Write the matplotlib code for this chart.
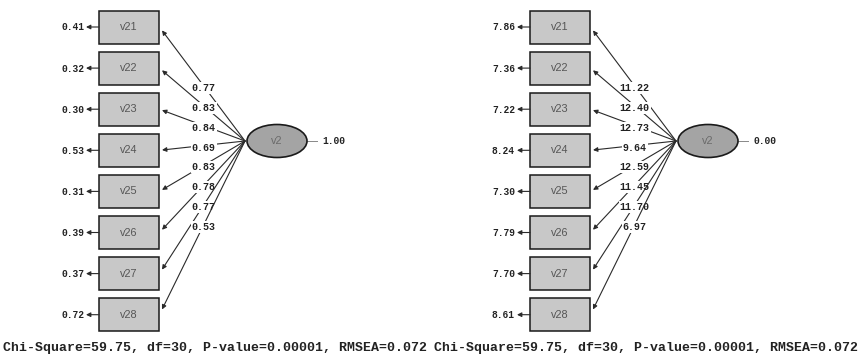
import matplotlib
matplotlib.use('Agg')
import matplotlib.pyplot as plt
from matplotlib.patches import Rectangle, Ellipse

# ---- data ----
indicators = ['v21', 'v22', 'v23', 'v24', 'v25', 'v26', 'v27', 'v28']
latent = 'v2'
std_loadings = ['0.77', '0.83', '0.84', '0.69', '0.83', '0.78', '0.77', '0.53']
std_errors = ['0.41', '0.32', '0.30', '0.53', '0.31', '0.39', '0.37', '0.72']
std_latent = '1.00'
t_loadings = ['11.22', '12.40', '12.73', '9.64', '12.59', '11.45', '11.70', '6.97']
t_errors = ['7.86', '7.36', '7.22', '8.24', '7.30', '7.79', '7.70', '8.61']
t_latent = '0.00'
fit_text = 'Chi-Square=59.75, df=30, P-value=0.00001, RMSEA=0.072'

panels = [
    dict(loadings=std_loadings, errors=std_errors, lat=std_latent),
    dict(loadings=t_loadings, errors=t_errors, lat=t_latent),
]

# ---- layout (pixel space) ----
W, H = 858, 362
fig = plt.figure(figsize=(W / 100, H / 100), dpi=100)
ax = fig.add_axes([0, 0, 1, 1])
ax.set_xlim(0, W)
ax.set_ylim(H, 0)
ax.axis('off')

panel_dx = 431
box_x0, box_w, box_h = 99, 60, 33
y_first, y_step = 27, 41.1
lat_cx, lat_cy, lat_w, lat_h = 277, 141, 60, 33
conv_x = 245

mono = ['Liberation Mono', 'DejaVu Sans Mono']
edge = '#1a1a1a'
line_c = '#2a2a2a'

for p, panel in enumerate(panels):
    dx = p * panel_dx
    bx = box_x0 + dx
    # boxes
    for i, name in enumerate(indicators):
        cy = y_first + i * y_step
        ax.add_patch(Rectangle((bx, cy - box_h / 2), box_w, box_h,
                               facecolor='#c8c8c8', edgecolor=edge, lw=1.1, zorder=2))
        ax.text(bx + box_w / 2, cy, name, ha='center', va='center',
                fontsize=7.8, color='#555555', family='Liberation Sans', zorder=3)
        # error arrow
        ax.annotate('', xy=(bx - 13, cy), xytext=(bx, cy),
                    arrowprops=dict(arrowstyle='-|>', color=line_c, lw=0.8,
                                    mutation_scale=6.5, shrinkA=0, shrinkB=0), zorder=2)
        ax.text(bx - 15, cy + 0.5, panel['errors'][i], ha='right', va='center',
                fontsize=6.9, family=mono, weight='bold', color='#222222')
    # latent
    lcx = lat_cx + dx
    ax.add_patch(Ellipse((lcx, lat_cy), lat_w, lat_h, facecolor='#a4a4a4',
                         edgecolor=edge, lw=1.2, zorder=3))
    ax.text(lcx, lat_cy, latent, ha='center', va='center', fontsize=7.8,
            color='#6a6a6a', family='Liberation Sans', zorder=4)
    ax.plot([lcx + lat_w / 2, lcx + lat_w / 2 + 10], [lat_cy, lat_cy],
            color='#888888', lw=0.7)
    ax.text(lcx + lat_w / 2 + 15, lat_cy + 0.5, panel['lat'], ha='left', va='center',
            fontsize=6.9, family=mono, weight='bold', color='#222222')
    # loadings
    cx0 = conv_x + dx
    for i, lab in enumerate(panel['loadings']):
        cy = y_first + i * y_step
        ey = cy + 0.03 * (lat_cy - cy)
        ex = bx + box_w + 3
        ax.annotate('', xy=(ex, ey), xytext=(cx0, lat_cy),
                    arrowprops=dict(arrowstyle='-|>', color=line_c, lw=0.8,
                                    mutation_scale=6.5, shrinkA=0, shrinkB=0),
                    zorder=1 + i * 0.01)
        mx = (cx0 + ex) / 2
        my = (lat_cy + ey) / 2 + 2
        ax.text(mx, my, lab, ha='center', va='center', fontsize=7.2,
                family=mono, weight='bold', color='#222222',
                bbox=dict(boxstyle='square,pad=0.1', fc='white', ec='none'),
                zorder=1.005 + i * 0.01)
    # fit text
    ax.text(3 + dx, 348, fit_text, ha='left', va='center', fontsize=9.5,
            family=mono, weight='bold', color='#222222')

fig.savefig('out.png', dpi=100)
